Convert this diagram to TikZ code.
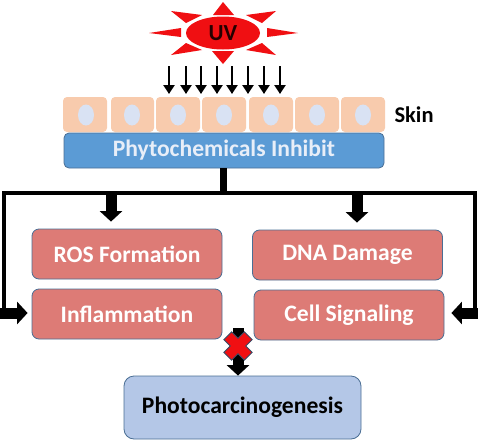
\documentclass[tikz,border=0pt]{standalone}
\usepackage{fontspec}
\setmainfont{Carlito}
\usetikzlibrary{arrows.meta,shapes.geometric}
\definecolor{cellSkin}{HTML}{F8CBAD}
\definecolor{cellCore}{HTML}{D9E2F3}
\definecolor{inhibB}{HTML}{5B9BD5}
\definecolor{edgeB}{HTML}{4A6E94}
\definecolor{harmR}{HTML}{DD7B76}
\definecolor{outB}{HTML}{B4C7E7}
\definecolor{sunR}{HTML}{F00F12}
\tikzset{
  cellbox/.style={fill=cellSkin, rounded corners=4pt, inner sep=0pt, minimum height=35pt},
  corebox/.style={ellipse, fill=cellCore, inner sep=0pt, minimum width=16pt, minimum height=21pt},
  harmbox/.style={draw=edgeB, fill=harmR, line width=0.8pt, rounded corners=7pt, inner sep=0pt,
    minimum width=190pt, minimum height=50pt, text=white, font=\fontsize{23.6}{28}\selectfont\bfseries},
  busline/.style={line width=4pt, line cap=butt, line join=miter},
  blockarrow/.style={line width=11pt, -{Triangle[length=10.5pt, width=22pt]}},
  rayarrow/.style={line width=2.5pt, -{Triangle[length=9pt, width=11pt]}}
}
\begin{document}
\begin{tikzpicture}[x=1pt, y=-1pt]
  \useasboundingbox (0,0) rectangle (480,440);

  % Sun rays
  \fill[sunR] (223,2) -- (213,15) -- (234,15) -- cycle;
  \fill[sunR] (223,64) -- (212,51) -- (234,51) -- cycle;
  \fill[sunR] (149,33) -- (181,28) -- (181,37) -- cycle;
  \fill[sunR] (298,33) -- (267,28) -- (267,37) -- cycle;
  \fill[sunR] (171,11) -- (202,15) -- (186,23) -- cycle;
  \fill[sunR] (276,11) -- (246,15) -- (262,23) -- cycle;
  \fill[sunR] (171,55) -- (186,43) -- (202,50) -- cycle;
  \fill[sunR] (276,55) -- (262,43) -- (246,50) -- cycle;
  \node[ellipse, fill=sunR, inner sep=0pt, minimum width=74pt, minimum height=33pt,
    font=\fontsize{23}{28}\selectfont\bfseries, text=black!85!red] (sun) at (223,33) {UV};

  % Skin cells
  \foreach \n/\x/\w/\c in {1/85/44/86,2/132.5/43/132,3/178/44/178,4/224/44/224,5/271/44/271,6/317/44/317,7/363/44/363}{
    \node[cellbox, minimum width=\w pt] (cell\n) at (\x,114.5) {};
    \node[corebox] (core\n) at (\c,115) {};
  }
  \node[anchor=west, font=\fontsize{22.5}{27}\selectfont\bfseries] (skin) at (391,115) {Skin};

  % UV arrows
  \foreach \x in {169,186,201,217,232,248,264,280}{
    \draw[rayarrow] (\x,66) -- (\x,94);
  }

  \node[draw=edgeB, fill=inhibB, line width=0.8pt, rounded corners=5pt, inner sep=0pt,
    minimum width=320pt, minimum height=35pt, text=cellCore!60!white,
    font=\fontsize{23.6}{28}\selectfont\bfseries] (inhibit) at (224,150.5) {Phytochemicals Inhibit};

  \node[harmbox] (ros) at (127,254) {ROS Formation};
  \node[harmbox] (dna) at (347.5,255) {DNA Damage};
  \node[harmbox] (infl) at (127,314) {Inflammation};
  \node[harmbox] (cellsig) at (349,315) {Cell Signaling};
  \node[draw=edgeB, fill=outB, line width=0.8pt, rounded corners=10pt, inner sep=0pt,
    minimum width=237pt, minimum height=63pt,
    font=\fontsize{23.6}{28}\selectfont\bfseries] (photo) at (242.5,407.5) {Photocarcinogenesis};

  \coordinate (busMid) at (223,193);
  \coordinate (busL) at (4,193);
  \coordinate (busR) at (475,193);
  \coordinate (elbowL) at (4,313);
  \coordinate (elbowR) at (475,313);
  \coordinate (feedL) at (0,313);
  \coordinate (feedR) at (478,313);
  \coordinate (dropRos) at (111,193);
  \coordinate (dropDna) at (357,193);
  \coordinate (blockTop) at (238,328);
  \coordinate (blockMid) at (238,346);

  % Branching lines
  \draw[line width=7pt] (busMid |- inhibit.south) -- (busMid);
  \draw[busline] (elbowL) -- (busL) -- (busR) -- (elbowR);
  \draw[blockarrow, shorten >=7pt] (dropRos) -- (dropRos |- ros.north);
  \draw[blockarrow, shorten >=7pt] (dropDna) -- (dropDna |- dna.north);
  \draw[blockarrow, shorten >=4pt] (feedL) -- (feedL -| infl.west);
  \draw[blockarrow, shorten >=7pt] (feedR) -- (feedR -| cellsig.east);
  \draw[blockarrow] (blockTop) -- (blockTop |- photo.north);

  % Red cross
  \draw[fill=sunR, draw=edgeB!70!black, line width=0.9pt, shift={(blockMid)}, rotate=45]
    (-5.5,-14.5) -- (5.5,-14.5) -- (5.5,-5.5) -- (14.5,-5.5) -- (14.5,5.5) -- (5.5,5.5)
    -- (5.5,14.5) -- (-5.5,14.5) -- (-5.5,5.5) -- (-14.5,5.5) -- (-14.5,-5.5) -- (-5.5,-5.5) -- cycle;
\end{tikzpicture}
\end{document}
